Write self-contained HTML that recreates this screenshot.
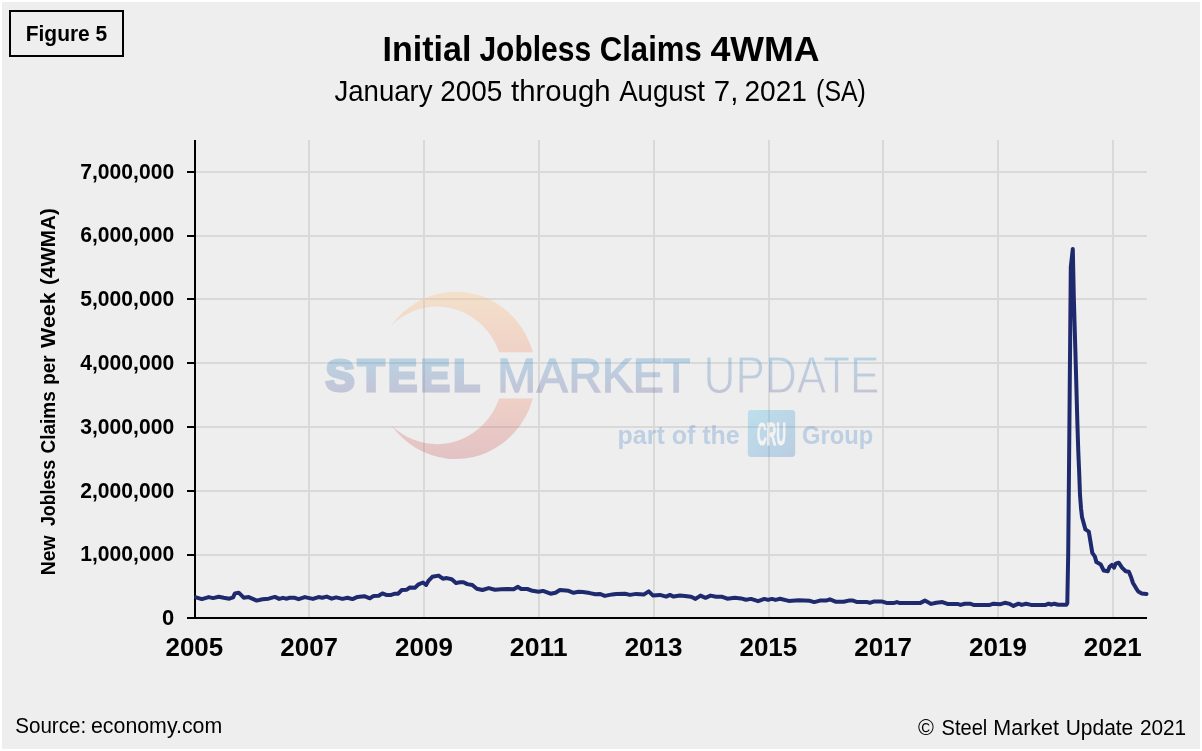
<!DOCTYPE html>
<html lang="en">
<head>
<meta charset="utf-8">
<title>Initial Jobless Claims 4WMA</title>
<style>
html,body{margin:0;padding:0;background:#ffffff;}
body{width:1202px;height:751px;overflow:hidden;position:relative;font-family:"Liberation Sans",sans-serif;}
svg{position:absolute;left:0;top:0;display:block;}
text{font-family:"Liberation Sans",sans-serif;fill:#000;}
.b{font-weight:bold;}
</style>
</head>
<body>
<svg width="1202" height="751" viewBox="0 0 1202 751">
  <defs>
    <linearGradient id="gBlue" x1="0" y1="357" x2="0" y2="394" gradientUnits="userSpaceOnUse">
      <stop offset="0" stop-color="#3a94cd"/>
      <stop offset="1" stop-color="#62629e"/>
    </linearGradient>
    <linearGradient id="gArc" x1="0" y1="291" x2="0" y2="459" gradientUnits="userSpaceOnUse">
      <stop offset="0" stop-color="#ffc27a"/>
      <stop offset="0.35" stop-color="#f5916a"/>
      <stop offset="0.65" stop-color="#ee8a69"/>
      <stop offset="1" stop-color="#c95a66"/>
    </linearGradient>
    <linearGradient id="gCru" x1="0" y1="0" x2="1" y2="1">
      <stop offset="0" stop-color="#4bbce7"/>
      <stop offset="1" stop-color="#4180c3"/>
    </linearGradient>
    <clipPath id="arcClip">
      <rect x="370" y="280" width="180" height="72.3"/>
      <rect x="370" y="398.5" width="180" height="70"/>
    </clipPath>
  </defs>

  <!-- panel -->
  <rect x="0" y="0" width="1202" height="751" fill="#ffffff"/>
  <rect x="2" y="2" width="1198" height="747" fill="#eeeeee"/>

  <!-- Figure box -->
  <rect x="10" y="11" width="113" height="45" fill="none" stroke="#000" stroke-width="2"/>
  <text class="b" x="25.75" y="41" font-size="21.4" textLength="81.5" lengthAdjust="spacingAndGlyphs">Figure 5</text>

  <!-- titles -->
  <text class="b" y="61.3" font-size="35.2"><tspan x="382.6" textLength="88.8" lengthAdjust="spacingAndGlyphs">Initial</tspan> <tspan x="479.4" textLength="111.7" lengthAdjust="spacingAndGlyphs">Jobless</tspan> <tspan x="599.8" textLength="101.9" lengthAdjust="spacingAndGlyphs">Claims</tspan> <tspan x="710.4" textLength="109.2" lengthAdjust="spacingAndGlyphs">4WMA</tspan></text>
  <text y="100.6" font-size="28.7"><tspan x="334.4" textLength="98.2" lengthAdjust="spacingAndGlyphs">January</tspan> <tspan x="440.2" textLength="62.0" lengthAdjust="spacingAndGlyphs">2005</tspan> <tspan x="511.1" textLength="99.4" lengthAdjust="spacingAndGlyphs">through</tspan> <tspan x="619.2" textLength="85.8" lengthAdjust="spacingAndGlyphs">August</tspan> <tspan x="713.8" textLength="24.5" lengthAdjust="spacingAndGlyphs">7,</tspan> <tspan x="744.4" textLength="62.5" lengthAdjust="spacingAndGlyphs">2021</tspan> <tspan x="816.1" textLength="49.8" lengthAdjust="spacingAndGlyphs">(SA)</tspan></text>

  <!-- gridlines -->
  <g id="grid" stroke="#d9d9d9" stroke-width="2" fill="none">
    <path d="M196 172H1147M196 236H1147M196 299H1147M196 363H1147M196 427H1147M196 491H1147M196 555H1147"/>
    <path d="M309 140V617M424 140V617M539 140V617M654 140V617M769 140V617M883 140V617M998 140V617M1113 140V617"/>
  </g>

  <!-- watermark -->
  <g id="wm" opacity="0.3">
    <g clip-path="url(#arcClip)">
      <path fill="url(#gArc)" d="M391.1 325.9A80.2 83.7 0 1 1 391.1 424.9A66 68.8 0 1 0 391.1 325.9Z"/>
    </g>
    <text class="b" transform="scale(0.965 1)" x="337.2 370.6 402.1 435.9 469.8" y="391.4" font-size="45.3" style="fill:url(#gBlue);stroke:url(#gBlue);stroke-width:3.2">STEEL</text>
    <text transform="scale(0.973 1)" x="511.0 551.7 584.4 618.8 650.2 680.3" y="391.8" font-size="47.8" style="fill:url(#gBlue);stroke:url(#gBlue);stroke-width:1.4">MARKET</text>
    <text x="703.5" y="392.95" font-size="51.2" textLength="176" lengthAdjust="spacingAndGlyphs" style="fill:url(#gBlue);stroke:#eeeeee;stroke-width:0.9">UPDATE</text>
    <text class="b" x="617.6" y="443.8" font-size="25" textLength="122" lengthAdjust="spacingAndGlyphs" style="fill:#4a86c6">part of the</text>
    <rect x="747.8" y="410" width="47.4" height="47" rx="3.4" fill="url(#gCru)"/>
    <text class="b" x="756.9" y="444.7" font-size="31.9" textLength="29" lengthAdjust="spacingAndGlyphs" style="fill:#ffffff;stroke:#ffffff;stroke-width:1">CRU</text>
    <text class="b" x="802" y="443.8" font-size="25" textLength="71.2" lengthAdjust="spacingAndGlyphs" style="fill:#4a86c6">Group</text>
  </g>

  <!-- axes -->
  <g stroke="#000" stroke-width="2" fill="none">
    <path d="M195 140V619"/>
    <path d="M187 618H1147"/>
    <path d="M187 172H195M187 236H195M187 299H195M187 363H195M187 427H195M187 491H195M187 555H195"/>
  </g>

  <!-- y labels -->
  <g class="b" font-size="22" text-anchor="end">
    <text x="174.2" y="178.8" textLength="94" lengthAdjust="spacingAndGlyphs">7,000,000</text>
    <text x="174.2" y="241.8" textLength="94" lengthAdjust="spacingAndGlyphs">6,000,000</text>
    <text x="174.2" y="305.8" textLength="94" lengthAdjust="spacingAndGlyphs">5,000,000</text>
    <text x="174.2" y="369.8" textLength="94" lengthAdjust="spacingAndGlyphs">4,000,000</text>
    <text x="174.2" y="433.8" textLength="94" lengthAdjust="spacingAndGlyphs">3,000,000</text>
    <text x="174.2" y="497.8" textLength="94" lengthAdjust="spacingAndGlyphs">2,000,000</text>
    <text x="174.2" y="560.8" textLength="94" lengthAdjust="spacingAndGlyphs">1,000,000</text>
    <text x="174.2" y="624.8">0</text>
  </g>

  <!-- y title -->
  <text class="b" transform="translate(55.4 574.3) rotate(-90)" font-size="20.4"><tspan x="-1.0" textLength="39.8" lengthAdjust="spacingAndGlyphs">New</tspan> <tspan x="48.3" textLength="66.1" lengthAdjust="spacingAndGlyphs">Jobless</tspan> <tspan x="120.9" textLength="62.2" lengthAdjust="spacingAndGlyphs">Claims</tspan> <tspan x="189.6" textLength="29.4" lengthAdjust="spacingAndGlyphs">per</tspan> <tspan x="226.4" textLength="55.5" lengthAdjust="spacingAndGlyphs">Week</tspan> <tspan x="289.4" textLength="76.7" lengthAdjust="spacingAndGlyphs">(4WMA)</tspan></text>

  <!-- x labels -->
  <g class="b" font-size="25.8" text-anchor="middle">
    <text x="194.35" y="655.9" textLength="57.8" lengthAdjust="spacingAndGlyphs">2005</text>
    <text x="309.15" y="655.9" textLength="57.8" lengthAdjust="spacingAndGlyphs">2007</text>
    <text x="423.95" y="655.9" textLength="57.8" lengthAdjust="spacingAndGlyphs">2009</text>
    <text x="538.75" y="655.9" textLength="57.8" lengthAdjust="spacingAndGlyphs">2011</text>
    <text x="653.55" y="655.9" textLength="57.8" lengthAdjust="spacingAndGlyphs">2013</text>
    <text x="768.35" y="655.9" textLength="57.8" lengthAdjust="spacingAndGlyphs">2015</text>
    <text x="883.15" y="655.9" textLength="57.8" lengthAdjust="spacingAndGlyphs">2017</text>
    <text x="997.95" y="655.9" textLength="57.8" lengthAdjust="spacingAndGlyphs">2019</text>
    <text x="1112.75" y="655.9" textLength="57.8" lengthAdjust="spacingAndGlyphs">2021</text>
  </g>

  <!-- data line -->
  <path id="line" fill="none" stroke="#1f2a6e" stroke-width="4" stroke-linejoin="round" stroke-linecap="round" d="M196 597.3L201.9 599.1L208.7 597.1L213.1 598.1L218.7 596.8L223.7 597.8L229.3 598.7L233.1 597.4L234.9 593.4L238.7 592.7L243.7 597.7L248.7 597.1L256.8 600.6L262.4 599.3L268.6 598.7L274.9 596.9L279.2 598.9L283 597.8L286.1 598.7L289.8 597.8L294.8 597.8L298.6 599.2L304.8 597.1L312.9 598.9L318.5 597.1L322.3 597.7L326.7 596.6L331.7 598.7L336.2 597.4L342.5 598.9L347.5 597.7L352.5 599.1L357.5 596.9L364.3 596.2L369.9 598.3L373.7 595.9L378.7 595.8L382.4 593.4L386.2 594.9L391.2 594.9L394.9 593.7L398 593.7L401.8 590L406.8 589.7L409.9 587.5L414.9 587.7L418.6 584.3L423 582.5L426.1 585L428.6 580.6L432.3 576.8L438.6 575.6L442.9 578.7L446.7 578.1L451.7 579.3L456 583.1L459.8 582.2L463.5 582.2L467.3 584.1L472.3 585L476.8 588.7L482.5 590L488.7 588.1L495 589.7L501.2 589.3L507.4 589L513.7 589.3L518 586.8L521.2 589L527.4 589L532.4 590.8L538.6 591.8L543 590.9L550.5 593.7L555.5 592.7L559.9 590L568.6 590.8L573.6 592.8L578.6 591.8L582.9 592.1L589.8 593.1L595.4 594.3L599.8 593.9L604.8 595.9L612.3 594.4L616.2 593.9L625 593.7L630 594.9L636.2 593.9L643.7 594.6L648.7 591.4L653.1 595.6L659.9 594.9L666.2 596.6L669.9 594.9L673.6 596.6L679.9 595.6L684.9 595.9L691.1 596.8L695.5 598.9L700.5 595.6L705.5 597.8L710.5 595.6L716.1 596.8L722.3 596.8L727.3 598.7L734.8 597.8L741 598.4L746 599.7L751 598.9L758.1 601.2L764.4 598.9L768.1 599.9L771.8 598.9L775.6 599.9L780 598.7L788.7 600.9L798.7 600.3L809.9 600.8L814.3 602.1L819.9 600.6L826.1 600.6L829.9 599.3L836.1 601.8L843.6 601.8L848.6 600.6L853 600.6L857.3 602.1L867.3 602.1L869.8 602.8L873.5 601.6L882.3 601.6L887.3 603.1L893.5 603.1L896.9 602.1L900 603.1L920 603.1L924.9 600.6L931.2 603.9L936.2 602.8L942.4 602.1L947.4 603.9L957.4 603.9L960.5 604.9L964.9 603.7L969.9 603.7L973.6 604.9L989.8 604.9L993.6 603.7L999.8 604.3L1004.8 602.8L1009.8 603.9L1013.5 605.9L1018.5 603.7L1021.7 604.9L1026 603.7L1031 604.9L1045.6 604.9L1048.7 603.7L1051.2 604.7L1054.3 603.7L1058.1 604.7L1066.4 604.7L1067.3 603.2L1068.2 554L1069.2 448L1070.1 346L1070.8 267L1072.8 249L1073.8 297L1075.4 351.7L1076.4 387.4L1077.4 424L1078.3 451.7L1079.2 472.8L1080 495L1081 508.2L1082 517L1085.4 529.4L1088.8 531.6L1090.5 541.9L1092.3 552.9L1094.9 556.6L1096.4 562.1L1100.8 564.6L1103.7 570.5L1107.8 571.2L1109.6 566.8L1111.8 564.9L1114 567.6L1115.7 563.6L1118.7 562.7L1122 567.6L1125.7 571.2L1128.9 571.7L1130.8 576.4L1133 583L1136 588.1L1138.2 591.5L1141.8 593.5L1146.5 594"/>

  <!-- footer -->
  <text y="732.7" font-size="21.4"><tspan x="15.2" textLength="71.0" lengthAdjust="spacingAndGlyphs">Source:</tspan> <tspan x="91.0" textLength="131.2" lengthAdjust="spacingAndGlyphs">economy.com</tspan></text>
  <text y="734.7" font-size="21.4"><tspan x="918.1" textLength="15.9" lengthAdjust="spacingAndGlyphs">©</tspan> <tspan x="941.5" textLength="45.8" lengthAdjust="spacingAndGlyphs">Steel</tspan> <tspan x="993.3" textLength="65.7" lengthAdjust="spacingAndGlyphs">Market</tspan> <tspan x="1065.7" textLength="67.6" lengthAdjust="spacingAndGlyphs">Update</tspan> <tspan x="1139.9" textLength="46.3" lengthAdjust="spacingAndGlyphs">2021</tspan></text>
</svg>
</body>
</html>
